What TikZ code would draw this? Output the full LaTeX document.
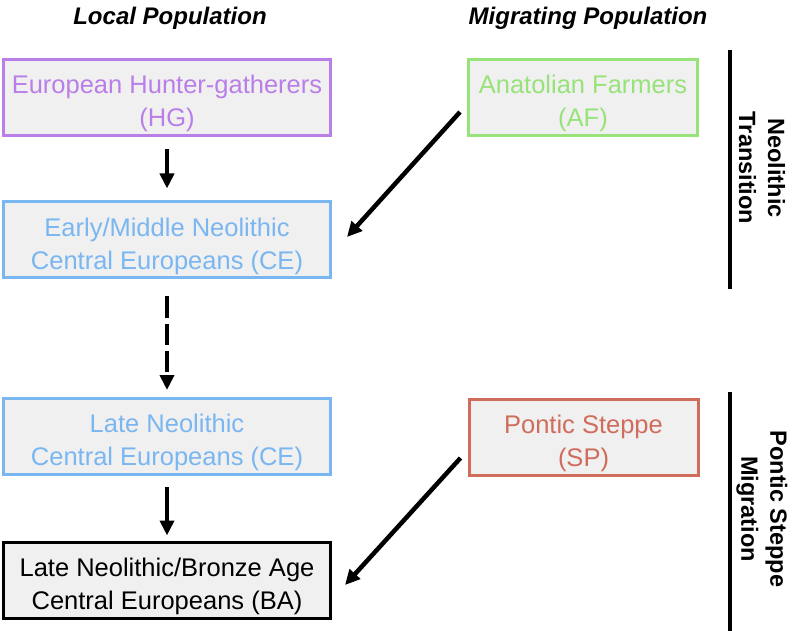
\documentclass[tikz,border=0pt]{standalone}
\usepackage{fontspec}
\setmainfont{Liberation Sans}
\usetikzlibrary{arrows.meta,calc}
\definecolor{hgc}{RGB}{186,126,232}
\definecolor{afc}{RGB}{152,226,122}
\definecolor{cec}{RGB}{122,182,240}
\definecolor{spc}{RGB}{208,108,92}
\definecolor{boxfill}{RGB}{240,240,240}
\begin{document}
\begin{tikzpicture}[x=1pt,y=-1pt,
  box/.style={draw, line width=3pt, fill=boxfill, minimum width=327pt, minimum height=76pt,
    inner sep=0pt},
  mbox/.style={box, minimum width=229pt},
  txt/.style={inner sep=0pt, align=center, font=\fontsize{25.5}{33}\selectfont},
  hdr/.style={font=\fontsize{24}{28}\selectfont\bfseries\itshape},
  side/.style={rotate=-90, align=center, font=\fontsize{23.5}{29}\selectfont\bfseries},
  bar/.style={line width=3.5pt},
  arr/.style={line width=4.5pt, -{Triangle[length=15pt,width=14pt]}},
  darr/.style={arr, dash pattern=on 21pt off 6pt}]
\useasboundingbox (0,0) rectangle (793,631);
\node[hdr] (lp) at (170,18) {Local Population};
\node[hdr] (mp) at (588,18) {Migrating Population};
\node[box, draw=hgc] (HG) at (167,97.5) {};
\node[box, draw=cec] (CE1) at (167,240) {};
\node[box, draw=cec] (CE2) at (167,436.5) {};
\node[box, draw=black] (BA) at (167,580) {};
\node[mbox, draw=afc] (AF) at (583,97.5) {};
\node[mbox, draw=spc] (SP) at (583.5,437.5) {};
\node[txt, text=hgc] (HGt) at ($(HG.center)+(0,6)$) {European Hunter-gatherers\\(HG)};
\node[txt, text=cec] (CE1t) at ($(CE1.center)+(0,6)$) {Early/Middle Neolithic\\Central Europeans (CE)};
\node[txt, text=cec] (CE2t) at ($(CE2.center)+(0,6)$) {Late Neolithic\\Central Europeans (CE)};
\node[txt, text=black] (BAt) at ($(BA.center)+(0,6)$) {Late Neolithic/Bronze Age\\Central Europeans (BA)};
\node[txt, text=afc] (AFt) at ($(AF.center)+(0,6)$) {Anatolian Farmers\\(AF)};
\node[txt, text=spc] (SPt) at ($(SP.center)+(0,6)$) {Pontic Steppe\\(SP)};
\coordinate (b1t) at (730,50);
\coordinate (b1b) at (730,289);
\coordinate (b2t) at (730,392);
\coordinate (b2b) at (730,631);
\draw[bar] (b1t) -- (b1b);
\draw[bar] (b2t) -- (b2b);
\node[side] (nt) at (762,168) {Neolithic\\Transition};
\node[side] (pm) at (762,509) {Pontic Steppe\\Migration};
\draw[arr, shorten <=12pt, shorten >=12pt] (HG.south) -- (CE1.north);
\draw[darr, shorten <=17pt, shorten >=7pt] (CE1.south) -- (CE2.north);
\draw[arr, shorten <=11pt, shorten >=5pt] (CE2.south) -- (BA.north);
\coordinate (afs) at ($(AF.west)+(-7,14.5)$);
\coordinate (ce1e) at ($(CE1.east)+(15,-3)$);
\draw[arr] (afs) -- (ce1e);
\coordinate (sps) at ($(SP.west)+(-7,20.5)$);
\coordinate (bae) at ($(BA.east)+(13,5)$);
\draw[arr] (sps) -- (bae);
\end{tikzpicture}
\end{document}
